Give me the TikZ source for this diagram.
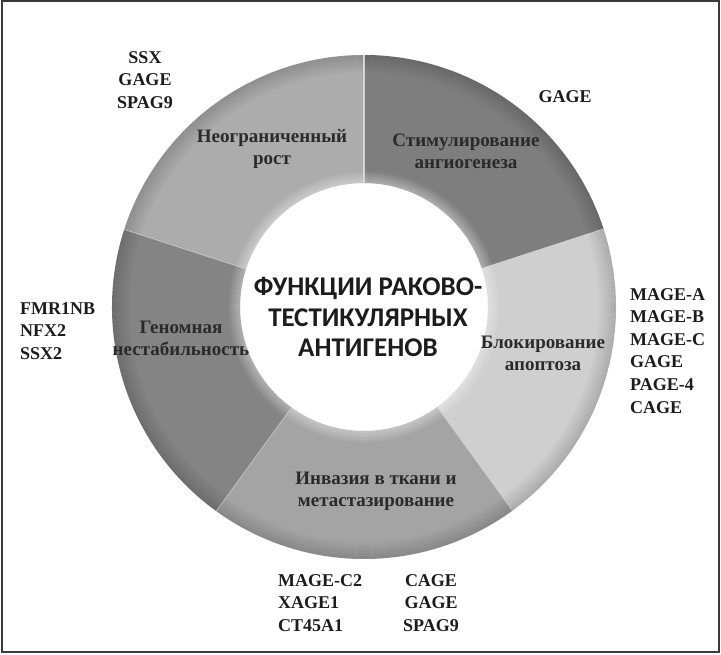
\documentclass[tikz,border=0pt]{standalone}
\usepackage{fontspec}
\setmainfont{Liberation Serif}
\newfontfamily\titlefont{Carlito}
\definecolor{segA}{HTML}{7E7E7E}
\definecolor{segB}{HTML}{CFCFCF}
\definecolor{segC}{HTML}{A4A4A4}
\definecolor{segD}{HTML}{848484}
\definecolor{segE}{HTML}{ACACAC}
\definecolor{sepcol}{HTML}{D4D4D4}
\definecolor{framecol}{HTML}{3A3A3A}
\definecolor{labelcol}{HTML}{2A2A2A}
\definecolor{genecol}{HTML}{1C1C1C}
\begin{document}
\begin{tikzpicture}[x=1pt,y=1pt,
  seglabel/.style={font=\bfseries\fontsize{19}{22}\selectfont, text=labelcol, align=center, inner sep=0pt},
  genes/.style={font=\bfseries\fontsize{18}{22.6}\selectfont, text=genecol, inner sep=0pt},
  title/.style={font=\titlefont\bfseries\fontsize{27}{30.5}\selectfont, text=genecol, align=center, inner sep=0pt}]
\useasboundingbox (0,0) rectangle (721,654);
\fill[white] (0,0) rectangle (721,654);
\draw[framecol, line width=2pt] (1.5,2.5) rectangle (718.5,652.5);
\coordinate (c) at (364,347);
\begin{scope}[shift={(c)}]
\foreach \a/\b/\col in {18/90/segA, -54/18/segB, -126/-54/segC, -198/-126/segD, 90/162/segE}{
  \fill[fill=\col] (\a:252) arc[start angle=\a, end angle=\b, radius=252] -- (\b:124) arc[start angle=\b, end angle=\a, radius=124] -- cycle;
  \begin{scope}
    \clip (\a:252) arc[start angle=\a, end angle=\b, radius=252] -- (\b:124) arc[start angle=\b, end angle=\a, radius=124] -- cycle;
    \foreach \i in {0,...,11}
      \draw[black, opacity={(12-\i)*0.012}, line width=1.6pt] (0,0) circle[radius={251.5-1.5*\i}];
    \foreach \i in {0,...,7}
      \draw[white, opacity={(8-\i)*0.04}, line width=1.6pt] (0,0) circle[radius={124.5+1.5*\i}];
  \end{scope}
  \draw[sepcol, line width=1.2pt] (\a:124) -- (\a:252);
}
\end{scope}
% centre title
\node[title] (ttl) at (368,337) {ФУНКЦИИ РАКОВО-\\ТЕСТИКУЛЯРНЫХ\\АНТИГЕНОВ};
% segment labels
\node[seglabel] (growth) at (272,505) {Неограниченный\\рост};
\node[seglabel] (angio) at (466,503) {Стимулирование\\ангиогенеза};
\node[seglabel] (genome) at (181,316) {Геномная\\нестабильность};
\node[seglabel] (apopt) at (543,301) {Блокирование\\апоптоза};
\node[seglabel] (invas) at (376,163) {Инвазия в ткани и\\метастазирование};
% gene lists
\node[genes, anchor=north, align=center] (gGrowth) at (145,603) {SSX\\GAGE\\SPAG9};
\node[genes, anchor=north] (gAngio) at (565,564) {GAGE};
\node[genes, anchor=north west, align=left] (gGenome) at (20,352) {FMR1NB\\NFX2\\SSX2};
\node[genes, anchor=north west, align=left] (gApopt) at (630,366) {MAGE-A\\MAGE-B\\MAGE-C\\GAGE\\PAGE-4\\CAGE};
\node[genes, anchor=north west, align=left] (gInvL) at (278,80) {MAGE-C2\\XAGE1\\CT45A1};
\node[genes, anchor=north, align=center] (gInvR) at (431,80) {CAGE\\GAGE\\SPAG9};
\end{tikzpicture}
\end{document}
